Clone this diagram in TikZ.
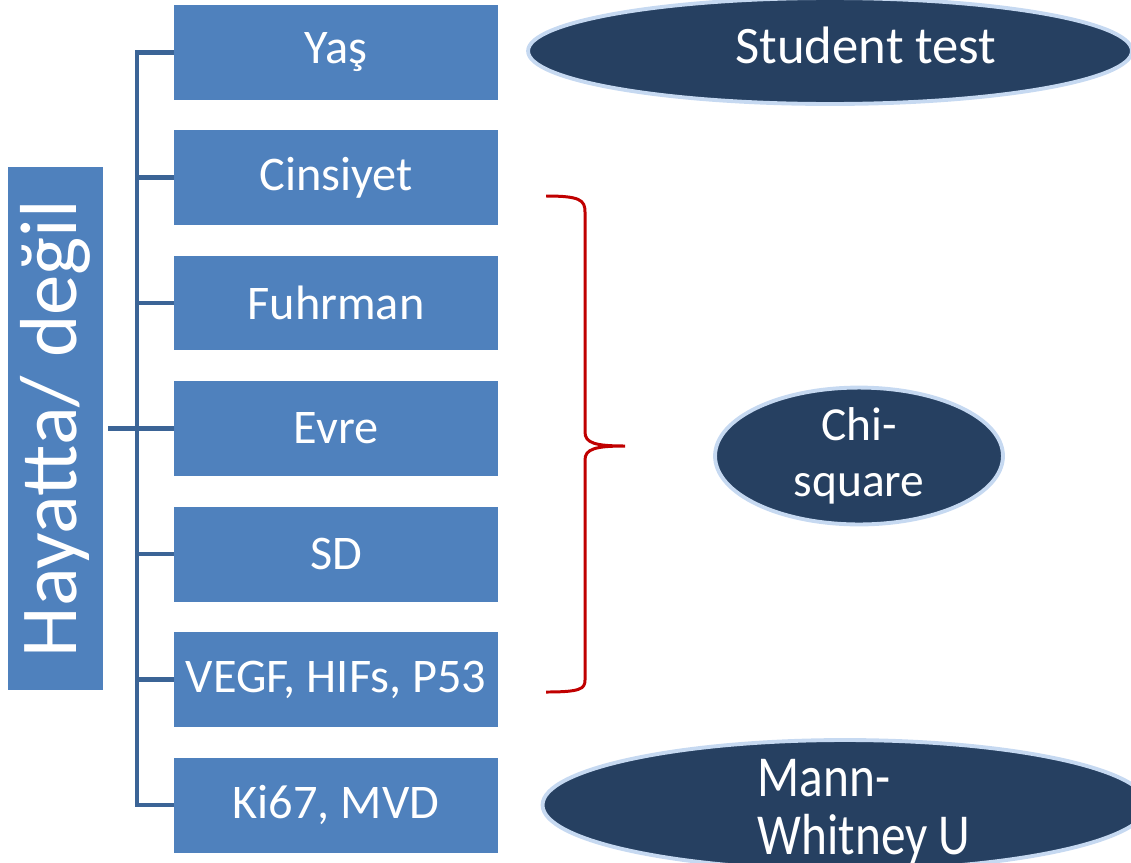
\documentclass[tikz,border=0pt]{standalone}
\usepackage{fontspec}
\setmainfont{Carlito}
\newfontfamily\narrowfont[FakeStretch=0.85]{Carlito}
\usepackage{tikz}
\usetikzlibrary{shapes.geometric}

\definecolor{boxblue}{HTML}{4F81BD}
\definecolor{treeblue}{HTML}{3B6496}
\definecolor{navy}{HTML}{264061}
\definecolor{rimblue}{HTML}{C6D9F1}
\definecolor{bracered}{HTML}{C00000}

\begin{document}
\begin{tikzpicture}[x=0.02cm, y=-0.02cm,
  factor/.style = {shape=rectangle, fill=boxblue, text=white, minimum width=6.48cm, minimum height=1.9cm, inner sep=1pt, font=\fontsize{27.5}{30}\selectfont},
  testellipse/.style = {shape=ellipse, fill=navy, draw=rimblue, line width=2.2pt, text=white, inner sep=0pt},
  testtext/.style = {text=white, inner sep=0pt, font=\fontsize{30}{33}\selectfont},
  tree/.style = {draw=treeblue, line width=2.3pt},
  ]

\clip (0,0) rectangle (1131,862);

\node (hayatta) [factor, minimum width=1.9cm, minimum height=10.46cm, font=\fontsize{46}{50}\selectfont] at (55.5,428.5) {\rotatebox{90}{Hayatta/ değil}};

\node (yas) [factor] at (336,52.5) {Yaş};
\node (cinsiyet) [factor] at (336,177.5) {Cinsiyet};
\node (fuhrman) [factor] at (336,303) {Fuhrman};
\node (evre) [factor] at (336,428.5) {Evre};
\node (sd) [factor] at (336,554) {SD};
\node (vegf) [factor] at (336,679.5) {VEGF, HIFs, P53};
\node (ki67) [factor] at (336,805) {Ki67, MVD};

\coordinate (trunk) at (137,428.5);

\draw[tree] (yas.west) -- (yas.west -| trunk) -- (ki67.west -| trunk) -- (ki67.west);
\foreach \b in {cinsiyet, fuhrman, evre, sd, vegf}
  \draw[tree] (\b.west -| trunk) -- (\b.west);
\draw[tree] ([xshift=0.1cm]hayatta.east) -- (trunk);

\node (student) [testellipse, minimum width=12.08cm, minimum height=2.12cm, label={[testtext, xshift=0.72cm, yshift=0.12cm]center:Student test}] at (830,51) {};
\node (chisq) [testellipse, minimum width=5.76cm, minimum height=2.54cm, align=center, font=\fontsize{27}{32}\selectfont] at (859,456) {Chi-\\square};
\node (mann) [testellipse, minimum width=12.1cm, minimum height=2.6cm, label={[testtext, align=left, xshift=0.38cm, yshift=-0.14cm, font=\narrowfont\fontsize{33}{33}\selectfont]center:{Mann-\\Whitney U}}] at (845,805) {};

% brace
\draw[bracered, line width=1.7pt] (546,196) .. controls (580,196) and (585,200) .. (585,212) -- (585,432)
  .. controls (585,443) and (595,446) .. (625,446) .. controls (595,446) and (585,449) .. (585,460)
  -- (585,680) .. controls (585,689) and (580,692) .. (546,692);
\end{tikzpicture}
\end{document}
